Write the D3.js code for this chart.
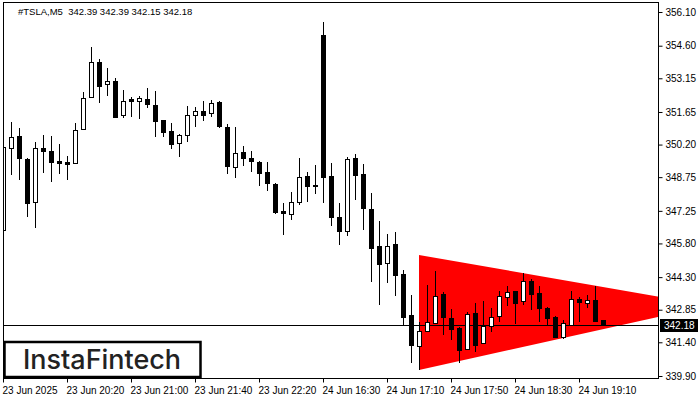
<!DOCTYPE html>
<html><head><meta charset="utf-8">
<script src="https://cdn.jsdelivr.net/npm/d3@7/dist/d3.min.js"></script>
<style>body{margin:0;background:#fff}svg{display:block}</style>
</head><body><svg id="c" width="700" height="400"></svg>
<script>
const opens  = [346.40,350.05,350.58,349.56,347.64,350.05,349.91,349.47,349.42,349.38,350.89,352.32,353.87,352.90,353.03,351.52,352.23,352.14,352.23,351.96,351.29,350.80,350.27,350.63,351.52,351.69,351.61,352.09,350.98,349.20,349.87,349.60,349.42,348.98,348.45,347.24,347.11,347.64,348.80,348.40,355.08,348.80,346.98,346.35,349.60,348.89,347.33,345.69,344.93,345.78,344.44,342.62,341.24,341.90,342.26,343.55,342.48,342.04,341.10,342.70,341.37,342.13,342.57,343.42,343.68,343.24,344.13,343.59,342.93,342.53,341.64,342.17,343.33,343.15,343.28,342.39];
const highs  = [350.18,351.20,350.94,349.60,350.31,350.63,350.58,350.23,349.69,351.16,352.54,354.54,354.01,353.61,353.16,352.63,352.32,352.36,352.72,352.58,351.29,351.16,350.67,351.92,351.87,352.14,352.18,352.14,351.12,350.98,350.14,349.91,349.47,349.42,348.49,347.60,348.09,349.60,348.98,349.29,355.66,349.38,347.60,349.65,349.78,349.34,348.04,346.80,346.22,346.31,344.62,343.51,342.30,343.95,344.57,343.64,342.88,342.08,342.75,343.15,343.24,342.93,343.68,343.91,343.68,344.48,344.22,343.91,342.97,342.57,342.39,343.68,343.42,343.51,343.91,342.39];
const lows   = [345.37,348.85,348.62,346.98,346.49,348.93,348.53,348.89,348.62,349.38,350.89,352.27,352.05,352.36,351.38,351.38,351.43,351.34,351.83,350.54,350.54,350.00,349.65,350.31,350.98,351.25,351.43,350.94,348.89,348.71,349.25,348.98,348.36,348.13,347.11,346.18,346.84,347.51,347.64,348.00,347.60,346.58,345.73,346.13,347.73,346.40,344.08,343.06,344.04,343.46,342.17,340.48,340.17,341.90,342.26,341.72,341.50,340.48,341.10,340.97,341.37,341.86,342.30,343.02,342.21,343.06,342.84,342.30,342.13,341.59,341.55,342.17,342.30,342.93,342.30,342.15];
const closes = [350.09,350.54,349.60,347.60,350.05,349.91,349.42,349.38,349.34,350.85,352.27,353.87,352.81,353.03,351.43,352.14,352.14,352.27,352.01,351.25,350.76,350.23,350.63,351.52,351.69,351.52,352.05,351.03,349.25,349.82,349.60,349.47,348.93,348.49,347.20,347.15,347.64,348.76,348.36,348.36,348.76,346.98,346.35,349.56,348.85,347.38,345.60,344.88,345.69,344.40,342.53,341.28,341.90,342.30,343.46,342.53,341.99,341.06,342.66,341.28,342.13,342.53,343.46,343.64,343.15,344.13,343.55,342.93,342.48,341.64,342.26,343.33,343.19,343.28,342.35,342.18];

const timeTickIdx = [0,8,16,24,32,40,48,56,64,72];
const timeLabels = ["23 Jun 2025","23 Jun 20:20","23 Jun 21:00","23 Jun 21:40","23 Jun 22:20","24 Jun 16:30","24 Jun 17:10","24 Jun 17:50","24 Jun 18:30","24 Jun 19:10"];
const priceTicks = [356.10,354.60,353.15,351.65,350.20,348.75,347.25,345.80,344.30,342.85,341.40,339.90];
const lastPrice = 342.18;
const title = "#TSLA,M5  342.39 342.39 342.15 342.18";
// triangle pattern: [bar index, price]
const triTop = [52, 345.29];
const triBottom = [52, 340.17];
const triApex = [88.3, 343.03];

const svg = d3.select("#c");
const L = 3, R = 659, T = 2, B = 379;
const x = d3.scaleLinear().domain([0, 82]).range([3, 659]);
const y = d3.scaleLinear().domain([339.90, 356.10]).range([376, 12]);
const font = "'Liberation Sans', Arial, sans-serif";

svg.append("defs").append("clipPath").attr("id","clip")
  .append("rect").attr("x",L).attr("y",T).attr("width",R-L).attr("height",B-T);

const plot = svg.append("g").attr("clip-path","url(#clip)");

// triangle
plot.append("polygon")
  .attr("points", [triTop, triApex, triBottom].map(p => [x(p[0]), y(p[1])].join(",")).join(" "))
  .attr("fill", "#ff0000");

// price line
plot.append("line").attr("x1",L).attr("x2",R)
  .attr("y1", Math.round(y(lastPrice))+0.5).attr("y2", Math.round(y(lastPrice))+0.5)
  .attr("stroke","#000").attr("stroke-width",1);

// candles
const data = opens.map((o,i)=>({i,o,h:highs[i],l:lows[i],c:closes[i]}));
const cg = plot.append("g").selectAll("g").data(data).join("g");
cg.append("line")
  .attr("x1", d=>Math.round(x(d.i))+0.5).attr("x2", d=>Math.round(x(d.i))+0.5)
  .attr("y1", d=>Math.round(y(d.h))).attr("y2", d=>Math.round(y(d.l)))
  .attr("stroke","#000").attr("stroke-width",1);
cg.append("rect")
  .attr("x", d=>Math.round(x(d.i))-2+0.5)
  .attr("y", d=>Math.round(y(Math.max(d.o,d.c)))+0.5)
  .attr("width", 4)
  .attr("height", d=>Math.max(0, Math.round(y(Math.min(d.o,d.c))) - Math.round(y(Math.max(d.o,d.c)))))
  .attr("fill", d=>d.c>=d.o ? "#fff" : "#000")
  .attr("stroke","#000").attr("stroke-width",1);

// frame
svg.append("rect").attr("x",L+0.5).attr("y",T+0.5).attr("width",R-L-1).attr("height",B-T-1)
  .attr("fill","none").attr("stroke","#000").attr("stroke-width",1);

// y axis
const ya = svg.append("g").attr("transform",`translate(${R-0.5},0)`)
  .call(d3.axisRight(y).tickValues(priceTicks).tickSize(4).tickPadding(3).tickFormat(d3.format(".2f")));
ya.select(".domain").remove();
ya.selectAll("text").attr("font-family",font).attr("font-size","10px").attr("fill","#000");
ya.selectAll("line").attr("stroke","#000");

// last price label
const ly = Math.round(y(lastPrice));
svg.append("rect").attr("x",660).attr("y",ly-6).attr("width",38).attr("height",13).attr("fill","#000");
svg.append("text").attr("x",664).attr("y",ly+4).attr("font-family",font).attr("font-size","10px")
  .attr("fill","#fff").text(lastPrice.toFixed(2));

// x axis
const xa = svg.append("g").attr("transform",`translate(0,${B-0.5})`)
  .call(d3.axisBottom(x).tickValues(timeTickIdx).tickSize(4).tickPadding(4).tickFormat((d,i)=>timeLabels[i]));
xa.select(".domain").remove();
xa.selectAll("line").attr("stroke","#000");
xa.selectAll("text").attr("font-family",font).attr("font-size","10px").attr("fill","#000")
  .attr("text-anchor","start").attr("dx","-1");

// title
svg.append("text").attr("x",18).attr("y",14.5).attr("font-family",font).attr("font-size","9.5px")
  .attr("fill","#000").attr("xml:space","preserve").style("white-space","pre").text(title);

// logo
svg.append("rect").attr("x",4.5).attr("y",342).attr("width",196).attr("height",35)
  .attr("fill","#fff").attr("stroke","#000").attr("stroke-width",2.5);
svg.append("text").attr("x",23).attr("y",369).attr("font-family","Inter, 'Noto Sans', sans-serif")
  .attr("font-weight",500).attr("font-size","27px").attr("fill","#222")
  .attr("textLength",158).attr("lengthAdjust","spacingAndGlyphs").text("InstaFintech");
</script></body></html>
